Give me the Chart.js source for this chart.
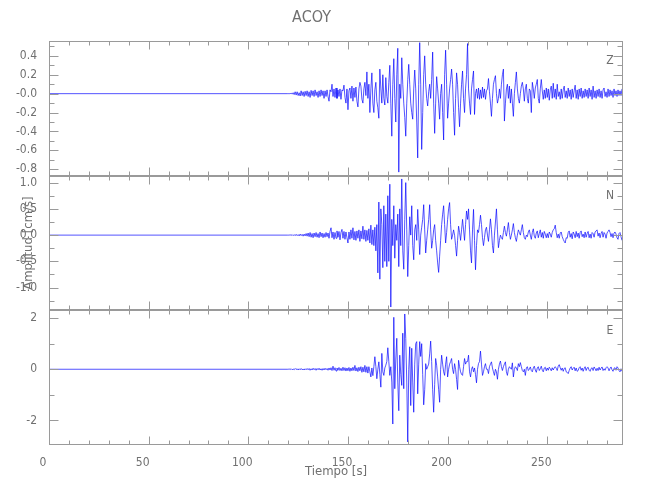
<!DOCTYPE html>
<html><head><meta charset="utf-8">
<script src="https://cdn.jsdelivr.net/npm/chart.js@4/dist/chart.umd.min.js"></script>
<style>html,body{margin:0;padding:0;background:#fff}#wrap{width:650px;height:500px}</style>
</head><body><div id="wrap"><canvas id="c" width="650" height="500"></canvas></div>
<script>
// ---- data (sample times: t0 + i*dt seconds) ----
const t0 = 120, dt = 0.5;
const zVals = [
0,0,0,0.005,-0.005,0.01,-0.01,0.02,-0.015,0.02,-0.02,0.01,-0.025,0.03,-0.02,0.02,-0.03,0.025,-0.02,0.03,
-0.03,0.02,-0.04,0.035,-0.02,0.03,-0.03,0.04,-0.02,0.02,-0.04,0.03,-0.03,0.04,-0.02,0.03,-0.05,0.03,-0.03,0.04,
-0.03,-0.08,0.04,0.02,0.10,-0.03,0.05,-0.04,0.06,-0.05,0.04,-0.03,0.05,-0.06,0.04,0.03,0.09,-0.04,-0.10,0.05,
-0.17,0.03,0.06,-0.05,0.08,-0.08,0.06,-0.04,0.07,-0.08,-0.14,0.05,0.12,0.08,-0.06,-0.10,0.05,0.12,-0.02,0.23,
-0.05,0.1,-0.2,0.05,0.22,-0.1,-0.2,0.04,0.12,-0.08,-0.15,-0.26,0.26,0.05,-0.1,0.20,-0.05,-0.12,0.17,-0.03,
-0.1,0.12,0.30,-0.1,-0.45,0.1,0.37,-0.05,-0.3,0.2,0.48,-0.83,0.1,-0.05,0.38,0.1,-0.1,-0.25,-0.45,-0.1,
0.15,0.31,0.1,-0.1,-0.2,-0.27,0.05,0.25,0.05,-0.3,-0.68,0.1,0.54,0.1,-0.59,-0.2,0.2,0.40,0.1,-0.05,
-0.13,0.02,0.1,-0.05,0.15,0.44,-0.1,-0.42,-0.1,0.18,0.05,-0.1,-0.27,0.0,0.1,-0.2,-0.49,0.2,0.46,0.1,
-0.26,-0.1,0.05,0.15,0.26,0.1,-0.2,-0.44,-0.05,0.22,0.1,-0.15,-0.35,-0.1,0.1,0.24,-0.05,-0.2,0.05,0.2,
0.53,0.05,-0.1,-0.22,0.05,0.15,0.24,-0.22,0.0,0.05,-0.05,0.06,-0.06,0.04,-0.05,0.07,-0.04,0.05,-0.06,0.03,
0.05,0.16,0.02,-0.1,-0.24,-0.05,0.1,0.15,0.19,0.0,-0.1,-0.05,0.05,-0.05,0.1,0.2,0.26,-0.29,-0.1,0.05,
0.1,-0.05,0.08,-0.1,0.05,-0.1,-0.24,0.0,0.12,0.23,0.05,-0.05,-0.1,0.0,0.08,0.12,0.05,-0.08,0.05,0.1,
-0.05,-0.1,0.05,0.03,-0.2,0.12,0.05,-0.05,0.06,0.1,0.15,-0.05,-0.1,0.05,0.15,0.03,-0.06,0.04,-0.05,0.06,
-0.04,0.05,-0.07,0.04,0.08,-0.05,0.11,-0.04,0.05,-0.06,0.1,-0.03,0.02,-0.06,0.05,-0.05,0.04,0.08,-0.04,0.03,
-0.05,0.06,-0.03,0.04,-0.06,0.05,-0.04,0.03,0.09,-0.05,0.04,-0.06,0.05,-0.03,0.06,-0.05,0.03,-0.04,0.05,-0.03,
0.04,-0.05,0.06,-0.03,0.04,-0.06,0.08,-0.04,0.03,-0.05,0.04,-0.03,0.05,-0.04,0.03,-0.05,0.04,0.06,-0.03,0.02,
-0.04,0.05,-0.03,0.04,-0.02,0.03,-0.04,0.05,-0.02,0.03,-0.03,0.04,-0.02,0.03,-0.02,0.05
];
const nVals = [
0,0,0.005,-0.005,0.01,-0.01,0.01,-0.01,0.015,-0.01,0.01,-0.015,0.02,-0.01,0.015,-0.02,0.02,-0.015,0.03,-0.02,
0.04,-0.03,0.05,-0.04,0.03,-0.05,0.04,-0.03,0.05,-0.04,0.03,-0.05,0.06,-0.03,0.04,-0.05,0.03,-0.04,0.05,-0.03,
0.04,-0.06,0.07,0.14,-0.05,0.06,-0.08,0.05,-0.06,0.08,-0.04,0.07,-0.09,0.05,0.11,-0.06,0.07,-0.08,0.06,-0.05,
-0.15,0.06,-0.08,0.1,-0.06,0.14,-0.09,0.07,-0.1,0.08,-0.06,0.1,-0.12,0.08,-0.07,0.17,-0.08,0.1,-0.12,0.09,
-0.1,0.12,-0.15,0.19,-0.18,0.1,-0.2,0.15,-0.3,0.2,-0.72,0.63,-0.84,0.5,0.2,-0.62,0.56,-0.5,0.4,-0.6,
0.75,-0.5,0.97,-1.37,0.3,-0.2,0.56,-0.44,0.2,-0.1,0.4,-0.6,0.5,-0.2,1.07,-0.3,-0.65,0.3,1.0,0.1,
-0.79,-0.2,0.35,0.0,0.56,-0.2,-0.47,0.1,0.2,-0.1,0.49,0.1,-0.37,0.0,0.15,0.3,0.58,0.1,-0.34,-0.1,
0.1,0.3,0.58,0.1,-0.25,-0.1,0.1,0.2,-0.1,-0.3,-0.53,-0.71,-0.4,-0.1,0.2,0.4,0.56,0.2,-0.15,0.05,
0.3,0.5,0.62,0.2,-0.08,0.0,0.1,0.0,-0.2,-0.4,-0.1,0.17,0.05,-0.1,0.1,0.3,0.1,-0.1,0.2,0.46,
0.3,0.5,0.1,-0.3,-0.53,0.1,0.49,-0.1,-0.66,-0.2,0.1,0.05,0.2,0.38,0.2,-0.05,-0.2,-0.05,0.1,0.15,
0.0,-0.12,0.1,0.31,0.1,-0.2,-0.34,0.0,0.25,0.5,0.1,-0.24,-0.1,0.0,-0.05,-0.08,0.05,0.17,0.05,-0.02,
0.1,0.24,0.05,-0.08,0.0,0.1,0.22,0.05,-0.05,-0.12,0.0,0.1,0.05,0.0,0.1,0.2,0.05,-0.05,-0.08,0.0,
-0.03,0.06,0.1,0.0,-0.08,0.05,0.12,-0.02,-0.06,0.04,0.08,-0.05,0.03,0.1,-0.04,0.05,-0.06,0.07,0.02,-0.05,
0.03,-0.05,0.06,0.02,-0.04,0.05,0.1,0.12,0.19,0.05,-0.05,0.02,-0.06,0.04,0.06,-0.03,-0.08,-0.12,-0.15,-0.05,
-0.06,0.05,0.08,-0.04,0.03,-0.07,0.06,0.02,-0.05,0.07,-0.03,0.04,-0.06,0.05,0.08,-0.03,0.02,-0.05,0.06,-0.04,
0.03,0.07,-0.05,0.02,-0.06,0.05,0.03,-0.04,0.06,0.08,0.1,-0.02,0.04,-0.05,0.03,0.07,-0.04,0.05,0.02,-0.06,
0.04,0.07,0.1,0.05,-0.03,0.03,-0.05,0.04,0.06,0.02,-0.05,-0.08,0.03,0.05,-0.03,-0.1
];
const eVals = [
0,0.01,-0.01,0.02,-0.02,0.01,-0.02,0.03,-0.01,0.02,-0.03,0.02,-0.02,0.03,-0.02,0.01,-0.03,0.02,-0.02,0.03,
-0.02,0.03,-0.04,0.02,-0.03,0.04,-0.02,0.03,-0.04,0.03,-0.02,0.04,-0.03,0.02,-0.04,0.03,-0.03,0.04,-0.02,0.03,
-0.04,0.05,-0.03,0.06,-0.05,0.12,-0.04,0.06,-0.07,0.05,-0.04,0.07,-0.05,0.04,-0.06,0.08,-0.05,0.06,-0.07,0.05,
-0.06,0.07,-0.08,0.05,-0.06,0.08,-0.05,0.15,-0.07,0.06,-0.09,0.08,-0.06,0.1,-0.12,0.08,-0.1,0.15,-0.12,0.1,
-0.15,0.1,-0.1,-0.3,0.05,-0.25,0.1,0.49,0.1,-0.37,0.0,0.29,-0.2,-0.7,0.62,-0.1,-0.24,0.05,0.16,0.3,
0.84,0.3,-0.24,0.1,-0.5,-2.14,2.03,-0.76,0.4,1.21,-0.5,-1.62,0.55,-0.2,-0.63,1.41,-0.76,2.16,1.2,-0.5,
-2.84,0.0,0.88,-1.42,0.82,-0.5,-1.68,0.2,1.0,1.08,-0.96,0.2,1.08,0.5,1.0,-0.2,-1.39,-0.8,0.22,0.0,
0.1,0.2,0.6,1.1,0.3,-0.8,-1.68,-0.6,0.42,0.16,-0.3,-0.8,-1.29,0.0,0.55,0.2,-0.1,-0.24,0.2,0.49,
-0.3,0.0,0.2,0.3,0.42,0.0,-0.17,0.22,0.0,-0.4,-0.79,0.35,0.1,-0.1,-0.2,-0.24,0.1,0.42,0.2,0.3,
0.3,0.55,-0.1,-0.3,0.0,0.1,-0.1,0.05,-0.2,-0.53,0.0,0.22,0.3,0.71,0.2,-0.24,-0.1,0.1,0.22,0.0,
0.0,-0.17,0.1,0.2,0.29,0.05,-0.1,-0.24,0.0,-0.1,-0.39,0.0,0.2,0.32,0.1,-0.05,0.1,0.2,0.29,-0.1,
-0.24,0.0,0.1,0.05,0.0,0.25,-0.3,0.0,0.1,0.05,-0.05,0.22,0.1,0.26,0.1,-0.05,-0.1,0.0,-0.24,0.05,
0.1,-0.05,0.0,0.09,-0.05,-0.1,0.05,0.12,-0.03,-0.12,0.05,0.1,-0.05,0.02,0.12,-0.04,-0.1,0.05,0.08,-0.06,
0.05,-0.04,0.08,0.02,-0.06,0.06,-0.03,0.05,0.1,0.04,-0.05,0.12,0.18,0.06,-0.04,0.05,-0.08,0.03,0.06,-0.1,
-0.12,-0.17,-0.05,0.05,0.1,-0.03,0.04,0.08,-0.06,0.05,-0.08,-0.05,0.06,0.1,-0.04,0.05,-0.08,0.03,0.1,-0.05,
0.05,0.08,-0.04,-0.08,0.03,0.06,-0.05,0.09,0.02,-0.06,0.04,-0.05,0.08,-0.03,0.04,0.09,-0.05,0.02,-0.04,0.06,
0.1,0.05,-0.06,0.03,0.09,-0.02,-0.08,0.04,0.06,-0.04,0.1,0.05,-0.05,-0.1,0.02,-0.08
];
// ---- axes / tick labels ----
const xTicks = [0, 50, 100, 150, 200, 250];
const xLabels = ['0', '50', '100', '150', '200', '250'];
const zTicks = [0.4, 0.2, 0, -0.2, -0.4, -0.6, -0.8];
const zLabels = ['0.4', '0.2', '-0.0', '-0.2', '-0.4', '-0.6', '-0.8'];
const nTicks = [1.0, 0.5, 0, -0.5, -1.0];
const nLabels = ['1.0', '0.5', '0.0', '-0.5', '-1.0'];
const eTicks = [2, 0, -2];
const eLabels = ['2', '0', '-2'];
const components = ['Z', 'N', 'E'];

const FONT = '"Liberation Sans Narrow", "DejaVu Sans Condensed", "Roboto Condensed", "Liberation Sans", sans-serif';
const TXT = '#707070';
const AX = '#9a9a9a';

function pts(vals) {
  const a = [{x: 0, y: 0}, {x: t0 - dt, y: 0}];
  vals.forEach((v, i) => a.push({x: t0 + i * dt, y: v}));
  return a;
}

function yAxis(min, max, ticks, labels, weight, withTitle) {
  const o = {
    type: 'linear', position: 'left', stack: 'panels', stackWeight: 1, weight: weight,
    min: min, max: max,
    afterBuildTicks: s => { s.ticks = ticks.map(v => ({value: v})); },
    afterFit: s => { s.width = 49; },
    ticks: { autoSkip: false, padding: 4, color: TXT, font: {family: FONT, size: 12},
             callback: (v, i) => labels[i] },
    grid: { display: false }, border: { display: false },
  };
  if (withTitle) {
    o.title = { display: true, text: 'Amplitud [cm/s]', color: TXT,
                font: {family: FONT, size: 13}, padding: {top: 21, bottom: 0} };
  }
  return o;
}

const panels = [
  {id: 'yZ', name: components[0], ticks: zTicks, minor: 0.1},
  {id: 'yN', name: components[1], ticks: nTicks, minor: 0.25},
  {id: 'yE', name: components[2], ticks: eTicks, minor: 1},
];

const framePlugin = {
  id: 'frame',
  afterDatasetsDraw(chart) {
    const ctx = chart.ctx, ca = chart.chartArea, xs = chart.scales.x;
    ctx.save();
    ctx.strokeStyle = AX; ctx.lineWidth = 1;
    const seg = (x1, y1, x2, y2) => { ctx.beginPath(); ctx.moveTo(x1, y1); ctx.lineTo(x2, y2); ctx.stroke(); };
    const L = Math.round(ca.left) + 0.5, R = Math.round(ca.right) - 0.5;
    panels.forEach(p => {
      const s = chart.scales[p.id];
      const T = Math.round(s.top) + 0.5, B = Math.round(s.bottom) - 0.5;
      ctx.strokeRect(L, T, R - L, B - T);
      for (let k = 0; k * 10 <= xs.max; k++) {
        const v = k * 10;
        const px = Math.round(xs.getPixelForValue(v)) + 0.5;
        const len = (v % 50 === 0) ? 8 : 4;
        seg(px, T, px, T + len); seg(px, B, px, B - len);
      }
      const k0 = Math.ceil(s.min / p.minor - 1e-9), k1 = Math.floor(s.max / p.minor + 1e-9);
      for (let k = k0; k <= k1; k++) {
        const v = k * p.minor;
        const major = p.ticks.some(t => Math.abs(t - v) < 1e-6);
        const py = Math.round(s.getPixelForValue(v)) + 0.5;
        const len = major ? 9 : 5;
        seg(L, py, L + len, py); seg(R, py, R - len, py);
      }
      ctx.fillStyle = TXT;
      ctx.font = '12px ' + FONT;
      ctx.textAlign = 'center'; ctx.textBaseline = 'middle';
      ctx.fillText(p.name, ca.right - 13, s.top + 20);
    });
    ctx.restore();
  }
};

const ds = (vals, axis) => ({
  data: pts(vals), yAxisID: axis, borderColor: 'rgba(0,0,255,0.85)', borderWidth: 0.8,
  pointRadius: 0, tension: 0, fill: false
});

new Chart(document.getElementById('c'), {
  type: 'line',
  data: { datasets: [ds(zVals, 'yZ'), ds(nVals, 'yN'), ds(eVals, 'yE')] },
  options: {
    responsive: false, animation: false, devicePixelRatio: 1,
    layout: { padding: {left: 0, right: 27, top: 0, bottom: 0} },
    plugins: {
      legend: {display: false}, tooltip: {enabled: false},
      title: { display: true, text: 'ACOY', color: TXT, font: {family: FONT, size: 16, weight: 'normal'},
               padding: {top: 8, bottom: 14} }
    },
    scales: {
      x: {
        type: 'linear', min: 0, max: 288,
        afterBuildTicks: s => { s.ticks = xTicks.map(v => ({value: v})); },
        afterFit: s => { s.height = 55; },
        ticks: { autoSkip: false, maxRotation: 0, padding: 3, labelOffset: -6, color: TXT,
                 font: {family: FONT, size: 12}, callback: (v, i) => xLabels[i] },
        grid: { display: false }, border: { display: false },
        title: { display: true, text: 'Tiempo [s]', color: TXT, font: {family: FONT, size: 13},
                 padding: {top: 0, bottom: 21} }
      },
      yZ: yAxis(-0.869, 0.555, zTicks, zLabels, 3, false),
      yN: yAxis(-1.434, 1.13, nTicks, nLabels, 2, true),
      yE: yAxis(-2.96, 2.30, eTicks, eLabels, 1, false),
    }
  },
  plugins: [framePlugin]
});
</script></body></html>
